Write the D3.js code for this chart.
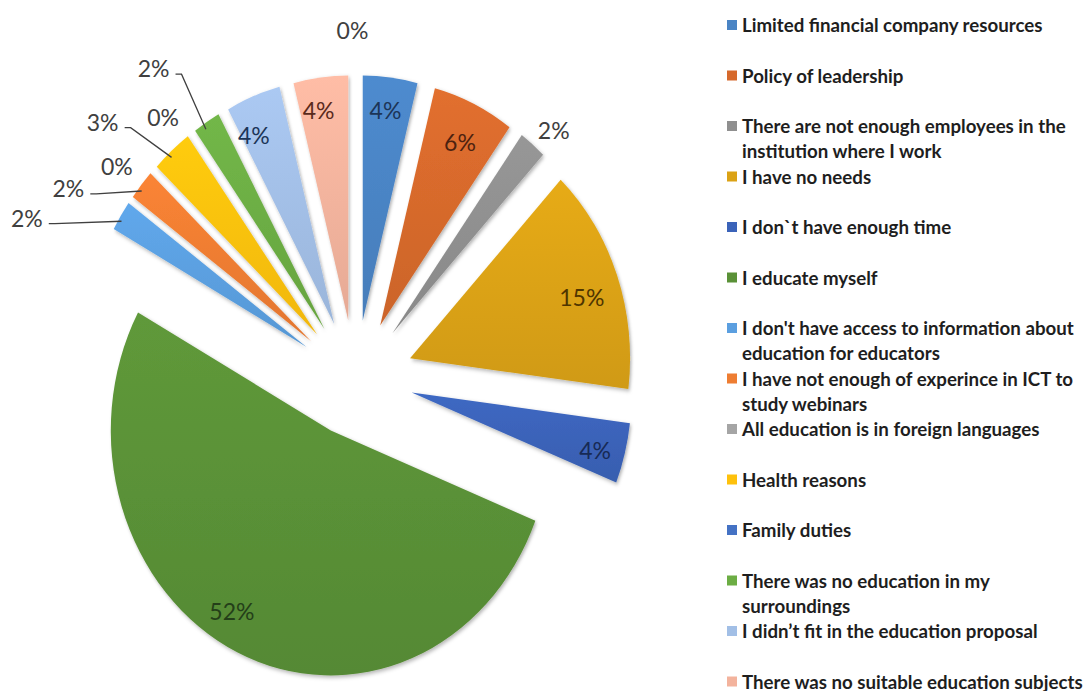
<!DOCTYPE html>
<html>
<head>
<meta charset="utf-8">
<script src="https://cdn.jsdelivr.net/npm/d3@7"></script>
<style>
  body { margin: 0; background: #ffffff; }
  svg { display: block; }
</style>
</head>
<body>
<svg id="chart" width="1087" height="691"></svg>
<script>
// Reasons for not taking part in further education (share of answers)
const categories = [
  "Limited financial company resources",
  "Policy of leadership",
  "There are not enough employees in the institution where I work",
  "I have no needs",
  "I don`t have enough time",
  "I educate myself",
  "I don't have access to information about education for educators",
  "I have not enough of experince in ICT to study webinars",
  "All education is in foreign languages",
  "Health reasons",
  "Family duties",
  "There was no education in my surroundings",
  "I didn’t fit in the education proposal",
  "There was no suitable education subjects",
  "Other"
];
const values = [4, 6, 2, 15, 4, 52, 2, 2, 0, 3, 0, 2, 4, 4, 0];
const percentLabels = values.map(v => v + "%");

// Legend text, already broken into lines
const legendLines = [
  ["Limited financial company resources"],
  ["Policy of leadership"],
  ["There are not enough employees in the", "institution where I work"],
  ["I have no needs"],
  ["I don`t have enough time"],
  ["I educate myself"],
  ["I don't have access to information about", "education for educators"],
  ["I have not enough of experince in ICT to", "study webinars"],
  ["All education is in foreign languages"],
  ["Health reasons"],
  ["Family duties"],
  ["There was no education in my", "surroundings"],
  ["I didn’t fit in the education proposal"],
  ["There was no suitable education subjects"],
  ["Other"]
];

const sliceColors = [
  "#4a84c4", "#d6692c", "#8f8f8f", "#dba215", "#3b63b9", "#5a9137", "#5b9fe0",
  "#ee7d32", "#a5a5a5", "#fec10c", "#4472c4", "#6cad44", "#a2bfe6", "#f3b39d", "#9a9a9a"
];

// Label placement: "in" = inside the slice at a fraction of the radius,
// "out" = next to the slice edge, "lead" = outside with a leader line.
const labelLayout = [
  { kind: "in",   f: 0.86, dx: -1,  dy: -1,  color: "#1c3557" },
  { kind: "in",   f: 0.83, dx: 2,   dy: 0,   color: "#4d2210" },
  { kind: "out",  f: 1.0,  dx: 21,  dy: -15, color: "#404040" },
  { kind: "in",   f: 0.82, dx: 2,   dy: 7,   color: "#4f3500" },
  { kind: "in",   f: 0.87, dx: -2,  dy: 5,   color: "#172a55" },
  { kind: "in",   f: 0.80, dx: -24, dy: 3,   color: "#243f19" },
  { kind: "lead", f: 1.0,  dx: -94, dy: 2,   color: "#404040" },
  { kind: "lead", f: 1.0,  dx: -73, dy: 3,   color: "#404040" },
  { kind: "out",  f: 1.0,  dx: -36, dy: -5,  color: "#404040" },
  { kind: "lead", f: 1.0,  dx: -69, dy: -29, color: "#404040" },
  { kind: "out",  f: 1.0,  dx: -29, dy: -16, color: "#404040" },
  { kind: "lead", f: 1.0,  dx: -53, dy: -54, color: "#404040" },
  { kind: "in",   f: 0.83, dx: -13, dy: 0,   color: "#1c3557" },
  { kind: "in",   f: 0.86, dx: -6,  dy: -1,  color: "#5a2a1c" },
  { kind: "out",  f: 1.0,  dx: -3,  dy: -45, color: "#404040" }
];

const width = 1087, height = 691;
const cx = 355.5, cy = 378;       // pie centre
const R = 245;                    // vertical radius
const sx = 0.898;                 // horizontal squash of the pie
const explode = 58;               // distance every slice is pulled out

const svg = d3.select("#chart");
const defs = svg.append("defs");

// soft shadow under each slice
const shadow = defs.append("filter").attr("id", "sliceShadow")
  .attr("x", "-20%").attr("y", "-20%").attr("width", "140%").attr("height", "140%");
shadow.append("feDropShadow")
  .attr("dx", 1.5).attr("dy", 2).attr("stdDeviation", 2)
  .attr("flood-color", "#000").attr("flood-opacity", 0.3);

// gentle top-to-bottom shading per slice
sliceColors.forEach((c, i) => {
  const g = defs.append("linearGradient").attr("id", "grad" + i)
    .attr("x1", 0).attr("y1", 0).attr("x2", 0).attr("y2", 1);
  g.append("stop").attr("offset", "0%").attr("stop-color", d3.color(c).brighter(0.15));
  g.append("stop").attr("offset", "100%").attr("stop-color", d3.color(c).darker(0.15));
});

const pie = d3.pie().sort(null).value(d => d).startAngle(0).endAngle(2 * Math.PI);
const arcs = pie(values);
const arcGen = d3.arc().innerRadius(0).outerRadius(R);

const mid = a => (a.startAngle + a.endAngle) / 2;
const shift = a => [explode * Math.sin(mid(a)), -explode * Math.cos(mid(a))];
// screen point at a fraction of the radius along the slice bisector
const pointAt = (a, f) => {
  const m = mid(a), [ox, oy] = shift(a);
  return [cx + ox + sx * R * f * Math.sin(m), cy + oy - R * f * Math.cos(m)];
};

const slices = svg.append("g").attr("class", "slices");
slices.selectAll("g")
  .data(arcs.filter(a => a.value > 0))
  .join("g")
  .attr("transform", a => {
    const [ox, oy] = shift(a);
    return `translate(${cx + ox},${cy + oy}) scale(${sx},1)`;
  })
  .append("path")
  .attr("d", arcGen)
  .attr("fill", a => `url(#grad${a.index})`)
  .attr("filter", "url(#sliceShadow)");

// value labels
const labelFont = "Lato, 'Open Sans', sans-serif";
const labels = svg.append("g").attr("class", "labels");
arcs.forEach((a, i) => {
  const L = labelLayout[i];
  const [px, py] = pointAt(a, L.f);
  const lx = px + L.dx, ly = py + L.dy;
  if (L.kind === "lead") {
    const sx0 = lx + 22, sy0 = ly + 6;
    const end = pointAt(a, 0.98);
    labels.append("polyline")
      .attr("points", [[sx0, sy0], [sx0 + 6, sy0], [end[0] - 3, end[1] + 3]].map(p => p.join(",")).join(" "))
      .attr("fill", "none")
      .attr("stroke", "#404040")
      .attr("stroke-width", 1.3);
  }
  labels.append("text")
    .attr("x", lx).attr("y", ly)
    .attr("text-anchor", "middle")
    .attr("dominant-baseline", "central")
    .attr("font-family", labelFont)
    .attr("font-size", 23)
    .attr("fill", L.color)
    .text(percentLabels[i]);
});

// legend
const legendX = 727, legendTop = 25, rowStep = 50.5, lineStep = 25;
const legend = svg.append("g").attr("class", "legend");
categories.forEach((name, i) => {
  const y = legendTop + i * rowStep;
  if (y > height - 8) return;
  const row = legend.append("g").attr("transform", `translate(${legendX},${y})`);
  row.append("rect")
    .attr("x", 0).attr("y", -5).attr("width", 10).attr("height", 10)
    .attr("fill", sliceColors[i]);
  const t = row.append("text")
    .attr("x", 15).attr("y", 0)
    .attr("font-family", labelFont)
    .attr("font-weight", "bold")
    .attr("font-size", 18.7)
    .attr("fill", "#1e1e1e");
  legendLines[i].forEach((line, k) => {
    t.append("tspan")
      .attr("x", 15)
      .attr("y", k * lineStep)
      .attr("dominant-baseline", "central")
      .text(line);
  });
});
</script>
</body>
</html>
